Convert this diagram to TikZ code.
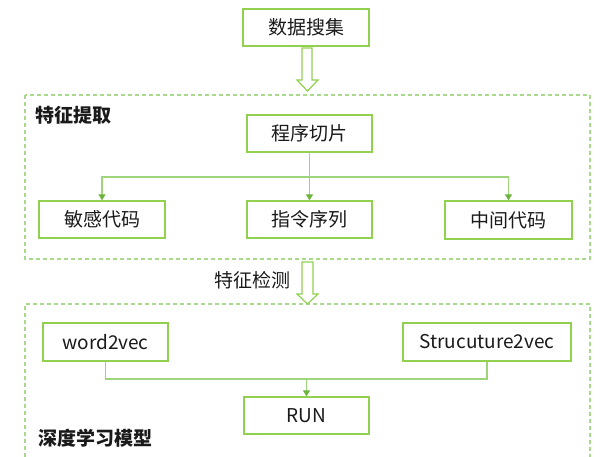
\documentclass[tikz,border=0pt]{standalone}
\usepackage{fontspec}
\setmainfont{Noto Sans CJK SC}
\usetikzlibrary{arrows.meta}
\definecolor{boxgreen}{HTML}{92D050}
\definecolor{linegreen}{HTML}{9ED47A}
\definecolor{tipgreen}{HTML}{6CB43C}
\definecolor{dashgreen}{HTML}{A9D98A}
\definecolor{ink}{HTML}{1A1A1A}
\tikzset{
  stepbox/.style={draw=boxgreen, line width=1.3pt, fill=white, rectangle,
    inner sep=0pt, text=ink, font=\fontsize{19}{22}\selectfont},
  link/.style={draw=linegreen, line width=1.2pt},
  conn/.style={link, -{Triangle[width=7pt,length=6pt,color=tipgreen]}},
  stage/.style={draw=dashgreen, line width=1.3pt, dash pattern=on 4pt off 3pt},
  hollow/.style={draw=boxgreen, line width=1.2pt, fill=white, line join=miter},
  caption/.style={text=ink, inner sep=0pt, font=\fontsize{19}{22}\selectfont},
}
\begin{document}
\begin{tikzpicture}[x=1pt, y=-1pt]
\useasboundingbox (0,0) rectangle (606,457);

% stage frames
\draw[stage] (25,95) rectangle (590,259);
\draw[stage] (25,457) -- (25,304) -- (590,304) -- (590,457);

% top input
\node[stepbox, minimum width=126pt, minimum height=37pt] (collect) at (306,27.5) {数据搜集};

% hollow arrows between stages
\draw[hollow] (302,48) -- (312,48) -- (312,80) -- (318,80) -- (307.5,91)
  -- (297,80) -- (302,80) -- cycle;
\draw[hollow] (302,262) -- (313,262) -- (313,294) -- (318,294) -- (307.5,304)
  -- (297,294) -- (302,294) -- cycle;

% feature extraction stage
\node[caption, anchor=west, font=\fontsize{19}{22}\selectfont\bfseries] (fe) at (35,115) {特征提取};
\node[stepbox, minimum width=125pt, minimum height=37pt] (prog) at (309.5,133.5) {程序切片};
\node[stepbox, minimum width=126pt, minimum height=37pt] (sens) at (102,219.5) {敏感代码};
\node[stepbox, minimum width=125pt, minimum height=37pt] (instr) at (309.5,219.5) {指令序列};
\node[stepbox, minimum width=127pt, minimum height=38pt] (mid) at (508.5,220) {中间代码};

\coordinate (split) at (309.5,177);
\draw[conn] (prog.south) -- (instr.north);
\draw[conn] (split) -| (sens.north);
\draw[conn] (split) -| (mid.north);

% detection label
\node[caption] (fd) at (252,280) {特征检测};

% deep learning stage
\node[stepbox, minimum width=125pt, minimum height=38pt] (w2v) at (105.5,342) {word2vec};
\node[stepbox, minimum width=168pt, minimum height=38pt] (s2v) at (487,342) {Strucuture2vec};
\node[stepbox, minimum width=125pt, minimum height=37pt] (run) at (306.5,415.5) {RUN};
\node[caption, anchor=west, font=\fontsize{19}{22}\selectfont\bfseries] (dl) at (38,438) {深度学习模型};

\coordinate (join) at (306.5,379);
\draw[link] (w2v.south) |- (join);
\draw[link] (s2v.south) |- (join);
\draw[conn] (join) -- (run.north);
\end{tikzpicture}
\end{document}
